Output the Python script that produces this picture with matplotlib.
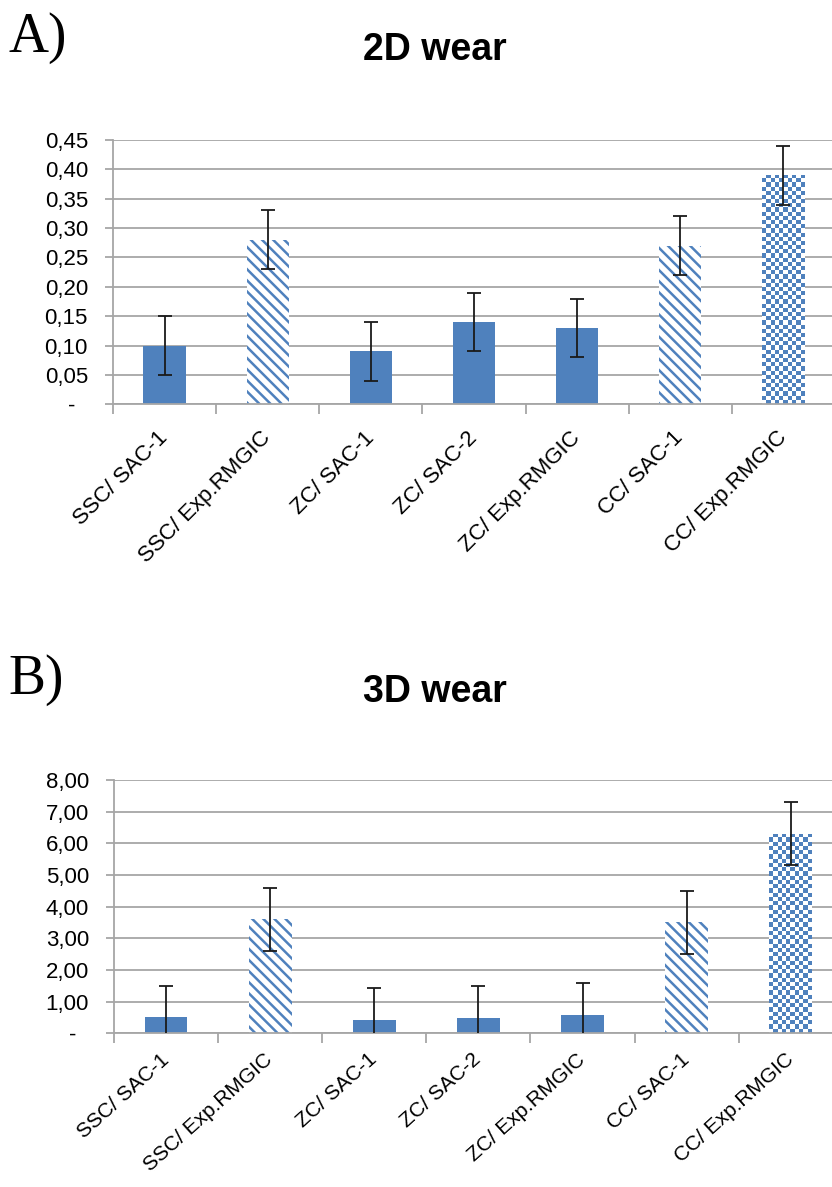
import numpy as np
import matplotlib
matplotlib.use("Agg")
import matplotlib.pyplot as plt
from matplotlib.colors import ListedColormap

plt.rcParams['font.family'] = ['Liberation Sans', 'DejaVu Sans']
plt.rcParams['hatch.linewidth'] = 1.8

categories = ["SSC/ SAC-1", "SSC/ Exp.RMGIC", "ZC/ SAC-1", "ZC/ SAC-2",
              "ZC/ Exp.RMGIC", "CC/ SAC-1", "CC/ Exp.RMGIC"]
# fill style per bar: solid, stripes, checker
fills = ["solid", "stripe", "solid", "solid", "solid", "stripe", "checker"]

wear2d = [0.10, 0.28, 0.09, 0.14, 0.13, 0.27, 0.39]
err2d = [0.05, 0.05, 0.05, 0.05, 0.05, 0.05, 0.05]
ticks2d = [0, 0.05, 0.10, 0.15, 0.20, 0.25, 0.30, 0.35, 0.40, 0.45]
ticklabels2d = ["-  ", "0,05", "0,10", "0,15", "0,20", "0,25", "0,30", "0,35", "0,40", "0,45"]

wear3d = [0.50, 3.60, 0.42, 0.48, 0.58, 3.50, 6.30]
err3d = [1.0, 1.0, 1.0, 1.0, 1.0, 1.0, 1.0]
ticks3d = [0, 1, 2, 3, 4, 5, 6, 7, 8]
ticklabels3d = ["-  ", "1,00", "2,00", "3,00", "4,00", "5,00", "6,00", "7,00", "8,00"]

blue = "#4F81BD"
grid_col = "#A6A6A6"

fig = plt.figure(figsize=(8.32, 11.87), dpi=100)


def draw_panel(ax, vals, errs, ticks, ticklabels, title, letter, title_y, letter_y,
               xl_rot=45, xl_size=16, xl_pad=22):
    x = np.arange(len(categories))
    ax.set_xlim(-0.5, len(categories) - 0.5)
    ax.set_ylim(ticks[0], ticks[-1])
    ax.set_axisbelow(True)
    ax.yaxis.grid(True, color=grid_col, linewidth=1.3)
    for s in ["top", "right"]:
        ax.spines[s].set_visible(False)
    for s in ["left", "bottom"]:
        ax.spines[s].set_color(grid_col)
        ax.spines[s].set_linewidth(1.3)

    bars = ax.bar(x, vals, width=0.41, color=blue, linewidth=0, zorder=2)
    for b, f in zip(bars, fills):
        if f == "stripe":
            b.set_facecolor("white")
            b.set_edgecolor(blue)
            b.set_hatch("\\\\\\")
        elif f == "checker":
            b.set_facecolor("white")
            x0, w, h = b.get_x(), b.get_width(), b.get_height()
            p0 = ax.transData.transform((x0, 0))
            p1 = ax.transData.transform((x0 + w, h))
            nx = max(1, int(round((p1[0] - p0[0]) / 4.2)))
            ny = max(1, int(round((p1[1] - p0[1]) / 4.2)))
            cells = (np.add.outer(np.arange(ny), np.arange(nx)) % 2)
            im = ax.imshow(cells, extent=(x0, x0 + w, 0, h), origin="lower",
                           cmap=ListedColormap(["white", blue]),
                           interpolation="nearest", aspect="auto", zorder=2.5)
            im.set_clip_path(b)

    ax.errorbar(x, vals, yerr=errs, fmt="none", ecolor="#1a1a1a",
                elinewidth=1.3, capsize=5, capthick=1.3, zorder=3)

    ax.set_xlim(-0.5, len(categories) - 0.5)
    ax.set_ylim(ticks[0], ticks[-1])
    ax.set_yticks(ticks)
    ax.set_yticklabels(ticklabels)
    ax.tick_params(axis="y", length=6, color=grid_col, width=1.3, labelsize=16, pad=12)

    ax.set_xticks(x)
    ax.set_xticklabels(categories, rotation=xl_rot, ha="right", va="center",
                       rotation_mode="anchor", fontsize=xl_size)
    ax.set_xticks(np.arange(len(categories) + 1) - 0.5, minor=True)
    ax.tick_params(axis="x", which="major", length=0, pad=xl_pad)
    ax.tick_params(axis="x", which="minor", length=7, color=grid_col, width=1.3)

    fig.text(0.523, title_y, title, ha="center", va="center",
             fontsize=27, fontweight="bold")
    fig.text(0.01, letter_y, letter, ha="left", va="center",
             fontsize=40, family=["Liberation Serif", "DejaVu Serif"])


ax1 = fig.add_axes([0.1358, 0.6594, 0.8678, 0.2227])
draw_panel(ax1, wear2d, err2d, ticks2d, ticklabels2d, "2D wear", "A)",
           1 - 50 / 1187, 1 - 38 / 1187)

ax2 = fig.add_axes([0.137, 0.1295, 0.876, 0.2134])
draw_panel(ax2, wear3d, err3d, ticks3d, ticklabels3d, "3D wear", "B)",
           1 - 692 / 1187, 1 - 680 / 1187, xl_rot=42, xl_size=15, xl_pad=17)

fig.savefig("out.png", dpi=100)
